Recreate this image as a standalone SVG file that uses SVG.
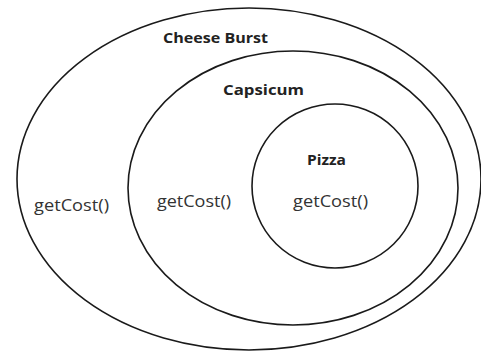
<svg xmlns="http://www.w3.org/2000/svg" width="481" height="351" viewBox="0 0 481 351">
<style>
.shape{fill:none;stroke:#1a1a1a;stroke-width:1.6}
.title{font-family:"Open Sans","Liberation Sans",sans-serif;font-weight:700;font-size:15px;fill:#222}
.method{font-family:"Open Sans","Liberation Sans",sans-serif;font-size:16px;fill:#333}
</style>
<rect width="481" height="351" fill="#fff"/>
<g id="cheese-burst">
<ellipse class="shape" cx="249" cy="179" rx="232" ry="171"/>
<text class="title" x="163" y="43" textLength="105" lengthAdjust="spacingAndGlyphs">Cheese Burst</text>
<text class="method" x="34" y="211" textLength="75" lengthAdjust="spacingAndGlyphs">getCost()</text>
</g>
<g id="capsicum">
<ellipse class="shape" cx="293" cy="188" rx="165" ry="137"/>
<text class="title" x="223" y="95" textLength="81" lengthAdjust="spacingAndGlyphs">Capsicum</text>
<text class="method" x="157" y="207" textLength="74" lengthAdjust="spacingAndGlyphs">getCost()</text>
</g>
<g id="pizza">
<ellipse class="shape" cx="335" cy="186" rx="83" ry="82"/>
<text class="title" x="307" y="165" textLength="39" lengthAdjust="spacingAndGlyphs">Pizza</text>
<text class="method" x="293" y="207" textLength="75" lengthAdjust="spacingAndGlyphs">getCost()</text>
</g>
<g id="connectors"/>
</svg>
